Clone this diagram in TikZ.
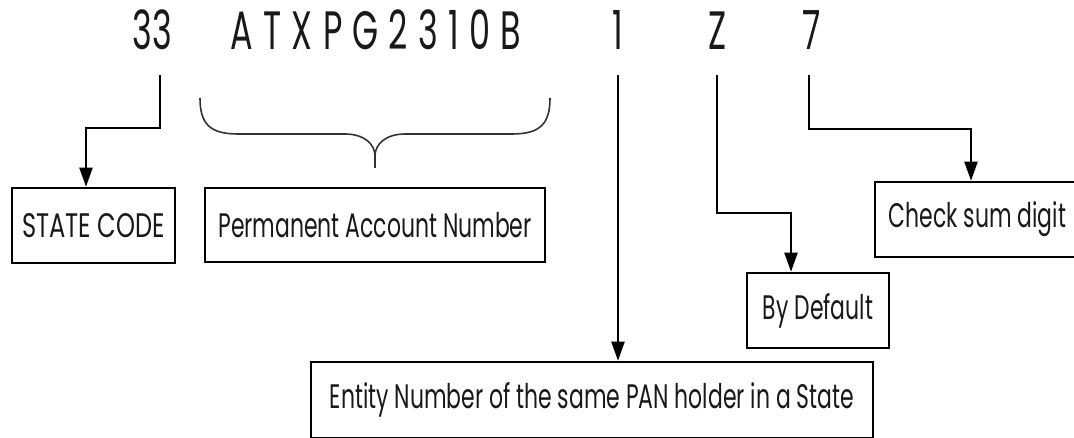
\documentclass[tikz,border=0pt]{standalone}
\usepackage{fontspec}
\usetikzlibrary{arrows.meta}
\newfontfamily\boxfont[FakeStretch=0.645]{Poppins}
\newfontfamily\capsfont[FakeStretch=0.71]{Poppins}
\newfontfamily\topfont[FakeStretch=0.62]{Poppins}
\newfontfamily\topspaced[FakeStretch=0.62,LetterSpace=19]{Poppins}
\tikzset{
  lbl/.style={draw=black, line width=2.5pt, inner sep=0pt, font=\boxfont\fontsize{34}{40}\selectfont, text=black!90},
  conn/.style={draw=black, line width=2pt, -{Triangle[length=19pt,width=13pt]}},
  digit/.style={anchor=base, inner sep=0pt, text=black!90, font=\topfont\fontsize{54}{60}\selectfont},
  bracestyle/.style={draw=black!80, line width=1.6pt},
}
\begin{document}
\begin{tikzpicture}[x=1pt,y=-1pt]
\useasboundingbox (0,0) rectangle (1074,438);
\fill[white] (0,0) rectangle (1074,438);
% top code
\node[digit] (n33) at (152.5,50) {33};
\node[digit, font=\topspaced\fontsize{54}{60}\selectfont] (npan) at (376,50) {ATXPG2310B};
\node[digit] (n1) at (618,50) {1};
\node[digit] (nZ) at (718,50) {Z};
\node[digit] (n7) at (812,50) {7};
% boxes
\node[lbl, minimum width=163, minimum height=75, font=\capsfont\fontsize{34}{40}\selectfont] (state) at (93.5,225.5) {STATE CODE};
\node[lbl, minimum width=340, minimum height=74] (pan) at (375,225) {Permanent Account Number};
\node[lbl, minimum width=205, minimum height=75] (check) at (977.5,219.5) {Check sum digit};
\node[lbl, minimum width=142, minimum height=75] (bd) at (818,310.5) {By Default};
\node[lbl, minimum width=562, minimum height=76] (entity) at (592,400) {Entity Number of the same PAN holder in a State};
% connector starts
\coordinate (s33) at (160,75);
\coordinate (s1) at (618,75);
\coordinate (sZ) at (717,75);
\coordinate (s7) at (809,75);
% connectors
\draw[conn] (s33) -- ++(0,53) -| ([xshift=-7.5pt]state.north);
\draw[conn] (s1) -- (s1 |- entity.north);
\draw[conn] (sZ) -- ++(0,138) -| ([xshift=-27pt]bd.north);
\draw[conn] (s7) -- ++(0,54) -| ([xshift=-6.5pt]check.north);
% brace
\draw[bracestyle] (200,98) .. controls (200,124) and (210,134) .. (238,134)
  -- (345,134) .. controls (364,134) and (375,144) .. (375,156) -- (375,168);
\draw[bracestyle] (550,98) .. controls (550,124) and (540,134) .. (512,134)
  -- (405,134) .. controls (386,134) and (375,144) .. (375,156);
\end{tikzpicture}
\end{document}
